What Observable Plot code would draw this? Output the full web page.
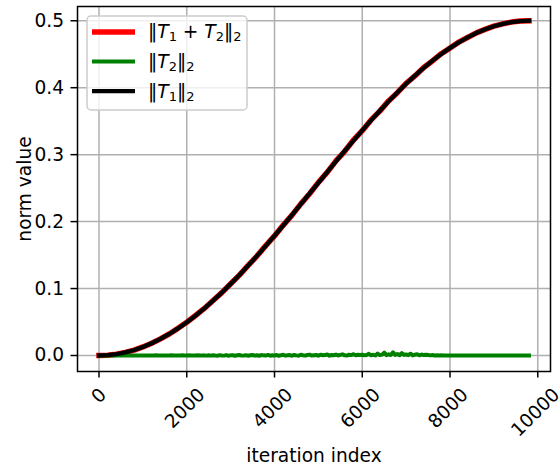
<!DOCTYPE html>
<html><head><meta charset="utf-8">
<script src="https://cdn.jsdelivr.net/npm/d3@7"></script>
<script src="https://cdn.jsdelivr.net/npm/@observablehq/plot@0.6"></script>
<style>html,body{margin:0;padding:0;background:#fff}</style>
</head><body><div id="chart"></div>
<script>
// iteration grids (sampling of the curves)
const iterCoarse = d3.range(0, 9801, 200);
const iterFine = d3.range(0, 9801, 50);

// ||T1||_2 (every 200 iterations)
const normT1 = [0, .0005, .0021, .0046, .0082, .0127, .0183, .0248, .0322, .0405,
  .0497, .0596, .0704, .0819, .0941, .1070, .1204, .1344, .1488, .1637,
  .1789, .1944, .2101, .2260, .2420, .2580, .2740, .2899, .3056, .3211,
  .3363, .3512, .3656, .3796, .3930, .4059, .4181, .4296, .4404, .4504,
  .4595, .4678, .4752, .4817, .4873, .4918, .4954, .4980, .4995, .5000];

// ||T1+T2||_2 (slightly jittery red curve, every 200 iterations)
const normSum = [0, .0005, .0020, .0047, .0081, .0128, .0182, .0249, .0321, .0406,
  .0496, .0598, .0703, .0821, .0939, .1072, .1201, .1347, .1485, .1641,
  .1786, .1948, .2097, .2265, .2416, .2586, .2735, .2906, .3050, .3219,
  .3358, .3519, .3650, .3803, .3925, .4066, .4176, .4302, .4400, .4508,
  .4592, .4681, .4750, .4819, .4872, .4919, .4953, .4980, .4995, .5000];

// ||T2||_2 (noisy green curve near zero, every 50 iterations)
const normT2 = [
  0,0,.0001,0,0,-.0001,0,.0001,0,0,
  .0001,0,-.0001,0,.0001,0,0,.0001,-.0001,0,
  .0001,0,0,-.0001,.0001,0,.0002,0,-.0001,0,
  .0001,-.0001,0,.0002,0,-.0001,.0001,0,.0002,-.0001,
  0,.0002,-.0001,.0001,0,.0003,-.0001,.0001,.0002,-.0002,
  .0003,-.0002,.0004,0,-.0003,.0005,.0001,-.0002,.0006,-.0003,
  .0002,.0004,-.0004,.0003,.0007,-.0002,.0001,.0005,-.0003,.0004,
  .0008,-.0002,.0003,-.0004,.0006,.0002,-.0001,.0009,-.0003,.0004,
  .0001,.0007,-.0004,.0005,.0010,-.0002,.0003,.0006,-.0003,.0008,
  .0002,-.0003,.0011,.0004,-.0002,.0007,.0013,-.0001,.0005,.0009,
  -.0003,.0012,.0003,.0006,.0015,-.0002,.0008,.0004,.0014,.0001,
  .0009,.0017,.0002,-.0001,.0012,.0006,.0019,.0003,.0010,.0007,
  .0012,.0002,.0008,.0025,.0004,.0010,.0001,.0030,.0006,.0013,
  .0042,.0005,.0018,.0008,.0048,.0007,.0022,.0003,.0035,.0009,
  .0016,.0004,.0027,.0002,.0012,.0020,.0003,.0014,.0006,.0011,
  .0008,.0002,.0006,.0001,.0004,.0001,
  .0002,0,.0001,-.0001,.0001,0,.0001,0,0,.0001,
  0,-.0001,0,.0001,0,0,0,.0001,0,0,
  0,0,.0001,0,0,0,0,0,0,0,
  0,0,0,0,0,0,0,0,0,0,0];

const xTicks = [0, 2000, 4000, 6000, 8000, 10000];
const yTicks = [0, 0.1, 0.2, 0.3, 0.4, 0.5];
const xLabel = "iteration index";
const yLabel = "norm value";
const seriesColors = ["red", "green", "black"];
// legend labels as math segments: [text, kind] kind: n normal, i italic, s subscript
const legendLabels = [
  [["‖","n"],["T","i"],["1","s"],[" + ","n"],["T","i"],["2","s"],["‖","n"],["2","s"]],
  [["‖","n"],["T","i"],["2","s"],["‖","n"],["2","s"]],
  [["‖","n"],["T","i"],["1","s"],["‖","n"],["2","s"]]
];

const sumData = iterCoarse.map((i, k) => ({i, v: normSum[k]}));
const t1Data = iterCoarse.map((i, k) => ({i, v: normT1[k]}));
const t2Data = iterFine.map((i, k) => ({i, v: normT2[k]}));

const W = 560, H = 467, mL = 77, mR = 10, mT = 6, mB = 96;
const FS = 18.6;
const widths = [5.5, 4, 4.3];
const lineOpts = {x: "i", y: "v", strokeLinecap: "square", strokeLinejoin: "round"};

const tickLabelMarks = xTicks.map(t => {
  const s = String(t);
  const inkW = s.length * 0.636 * FS - 2;
  return Plot.text([t], {x: d => d, frameAnchor: "bottom", text: d => String(d),
    rotate: -45, textAnchor: "middle", lineAnchor: "middle",
    dx: -(s.length - 1) * 0.6,
    dy: 16 + 0.354 * (inkW + 13.5)});
});

const svg = Plot.plot({
  width: W, height: H,
  marginLeft: mL, marginRight: mR, marginTop: mT, marginBottom: mB,
  style: {fontFamily: "DejaVu Sans", fontSize: FS + "px", background: "white", color: "black"},
  x: {domain: [-490, 10290]},
  y: {domain: [-0.0239, 0.5213]},
  marks: [
    Plot.gridX(xTicks, {stroke: "#b0b0b0", strokeOpacity: 1, strokeWidth: 1.5}),
    Plot.gridY(yTicks, {stroke: "#b0b0b0", strokeOpacity: 1, strokeWidth: 1.5}),
    Plot.line(sumData, {...lineOpts, stroke: seriesColors[0], strokeWidth: widths[0]}),
    Plot.line(t2Data, {...lineOpts, stroke: seriesColors[1], strokeWidth: widths[1]}),
    Plot.line(t1Data, {...lineOpts, stroke: seriesColors[2], strokeWidth: widths[2]}),
    Plot.frame({stroke: "black", strokeWidth: 1.5}),
    Plot.axisX(xTicks, {tickSize: 6.5, strokeWidth: 1.5, tickFormat: () => "", label: null}),
    Plot.axisY(yTicks, {tickSize: 6.5, tickPadding: 7, strokeWidth: 1.5, tickFormat: d => d.toFixed(1), label: null}),
    ...tickLabelMarks,
    Plot.text([xLabel], {frameAnchor: "bottom", dy: 90, lineAnchor: "bottom", text: d => d}),
    Plot.text([yLabel], {frameAnchor: "left", dx: -47, rotate: -90, lineAnchor: "bottom", textAnchor: "middle", text: d => d})
  ]
});

// legend (upper left, inside axes)
const g = d3.select(svg).append("g").attr("font-family", "DejaVu Sans").attr("text-anchor", "start");
const lx = mL + 10, ly = mT + 10, lw = 160, lh = 94;
g.append("rect").attr("x", lx).attr("y", ly).attr("width", lw).attr("height", lh)
  .attr("rx", 4).attr("fill", "white").attr("fill-opacity", 0.8)
  .attr("stroke", "#cccccc").attr("stroke-width", 1.5);
legendLabels.forEach((segs, k) => {
  const cy = ly + 16 + k * 29.6;
  g.append("line").attr("x1", lx + 5).attr("x2", lx + 48).attr("y1", cy).attr("y2", cy)
    .attr("stroke", seriesColors[k]).attr("stroke-width", widths[k]);
  const t = g.append("text").attr("x", lx + 61).attr("y", cy + 6.3)
    .attr("font-size", FS).attr("fill", "black").attr("text-anchor", "start")
    .style("white-space", "pre");
  let shifted = false;
  segs.forEach(([s, kind]) => {
    const ts = t.append("tspan").text(s);
    if (kind === "i") ts.attr("font-style", "italic");
    if (kind === "s") {
      ts.attr("font-size", 13);
      if (!shifted) { ts.attr("dy", 3); shifted = true; }
    } else if (shifted) { ts.attr("dy", -3); shifted = false; }
  });
});

document.getElementById("chart").appendChild(svg);
</script>
</body></html>
